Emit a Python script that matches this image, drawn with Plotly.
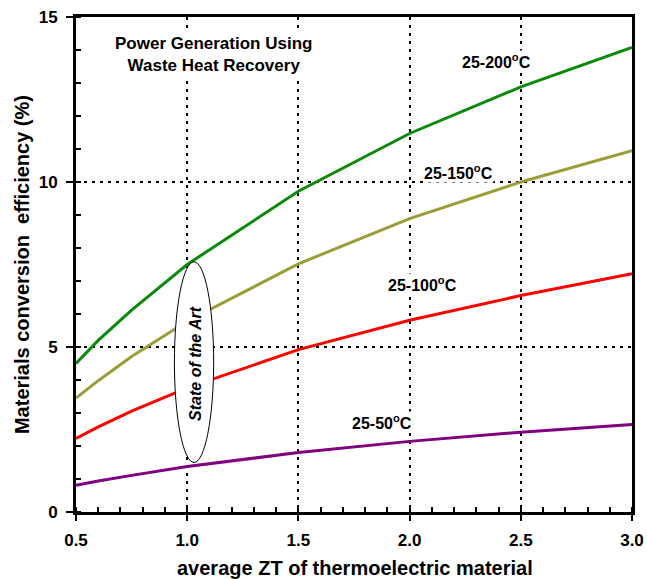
import plotly.graph_objects as go

# ---- data ----
zt = [0.5, 0.6, 0.75, 1.0, 1.5, 2.0, 2.5, 3.0]
eff_200 = [4.50, 5.20, 6.12, 7.50, 9.72, 11.47, 12.88, 14.08]
eff_150 = [3.45, 3.98, 4.71, 5.78, 7.52, 8.89, 10.00, 10.95]
eff_100 = [2.23, 2.58, 3.06, 3.76, 4.92, 5.81, 6.56, 7.22]
eff_50 = [0.81, 0.94, 1.11, 1.38, 1.80, 2.14, 2.42, 2.65]

series_names = ["25-200°C", "25-150°C", "25-100°C", "25-50°C"]
series_vals = [eff_200, eff_150, eff_100, eff_50]
series_colors = ["#0a8a0a", "#9c9c38", "#ff0000", "#800080"]

x_ticks = [0.5, 1.0, 1.5, 2.0, 2.5, 3.0]
y_ticks = [0, 5, 10, 15]

FONT = "Liberation Sans, Arial, sans-serif"

fig = go.Figure()
for name, vals, col in zip(series_names, series_vals, series_colors):
    fig.add_trace(go.Scatter(x=zt, y=vals, mode="lines", name=name,
                             line=dict(color=col, width=3), showlegend=False,
                             hoverinfo="skip"))

# curve labels
labels = [
    ("25-200<sup>o</sup>C", 2.39, 13.67),
    ("25-150<sup>o</sup>C", 2.22, 10.30),
    ("25-100<sup>o</sup>C", 2.06, 6.92),
    ("25-50<sup>o</sup>C", 1.876, 2.73),
]
for txt, x, y in labels:
    fig.add_annotation(x=x, y=y, xref="x", yref="y", text="<b>" + txt + "</b>",
                       showarrow=False, bgcolor="white", borderpad=0,
                       xanchor="center", yanchor="middle",
                       font=dict(family=FONT, size=16, color="black"))

# box title
fig.add_annotation(x=1.118, y=13.85, xref="x", yref="y",
                   text="<b>Power Generation Using<br>Waste Heat Recovery</b>",
                   showarrow=False, bgcolor="white", borderpad=2,
                   xanchor="center", yanchor="middle",
                   font=dict(family=FONT, size=17, color="black"))

# State of the Art ellipse
fig.add_shape(type="circle", xref="x", yref="y", x0=0.9425, x1=1.119, y0=1.5, y1=7.58,
              fillcolor="white", line=dict(color="black", width=1), layer="above")
fig.add_annotation(x=1.037, y=4.5, xref="x", yref="y", text="<b><i>State of the Art</i></b>",
                   textangle=-90, showarrow=False, xanchor="center", yanchor="middle",
                   font=dict(family=FONT, size=16, color="black"))

# axis titles
fig.add_annotation(x=0.502, y=-0.113, xref="paper", yref="paper",
                   xanchor="center", yanchor="middle",
                   text="<b>average ZT of thermoelectric material</b>", showarrow=False,
                   font=dict(family=FONT, size=20, color="black"))
fig.add_annotation(x=-0.097, y=0.499, xref="paper", yref="paper", textangle=-90,
                   xanchor="center", yanchor="middle",
                   text="<b>Materials conversion  efficiency (%)</b>", showarrow=False,
                   font=dict(family=FONT, size=20, color="black"))

fig.update_xaxes(range=[0.5, 3.0], tickvals=x_ticks,
                 ticktext=["<b>%.1f</b>" % v for v in x_ticks],
                 ticks="outside", ticklen=6, tickwidth=2, tickcolor="black",
                 ticklabelstandoff=5, automargin=False,
                 minor=dict(dtick=0.1, ticks="inside", ticklen=5, tickwidth=2,
                            tickcolor="black", showgrid=False),
                 showline=True, linecolor="black", linewidth=3, mirror=True,
                 showgrid=True, gridcolor="black", gridwidth=2, griddash="3px,5px",
                 zeroline=False,
                 tickfont=dict(family=FONT, size=17, color="black"))
fig.update_yaxes(range=[0, 15], tickvals=y_ticks,
                 ticktext=["<b>%d</b>" % v for v in y_ticks],
                 ticks="outside", ticklen=7, tickwidth=2, tickcolor="black",
                 ticklabelstandoff=5, automargin=False,
                 minor=dict(dtick=1, ticks="inside", ticklen=5, tickwidth=2,
                            tickcolor="black", showgrid=False),
                 showline=True, linecolor="black", linewidth=3, mirror=True,
                 showgrid=True, gridcolor="black", gridwidth=2, griddash="3px,5px",
                 zeroline=False,
                 tickfont=dict(family=FONT, size=17, color="black"))

fig.update_layout(width=647, height=579,
                  margin=dict(l=76, r=15, t=17, b=67, autoexpand=False),
                  paper_bgcolor="white", plot_bgcolor="white",
                  font=dict(family=FONT), hovermode=False)

fig.write_html("out.html", config={"displayModeBar": False},
               post_script="document.body.style.margin='0';"
                           "document.body.style.overflow='hidden';")
